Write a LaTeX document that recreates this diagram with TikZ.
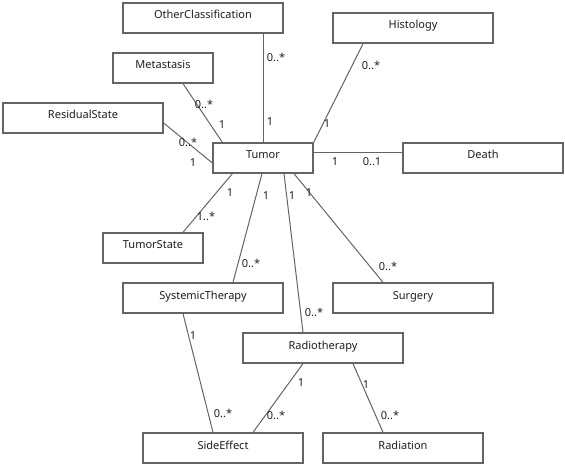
\documentclass[tikz,border=0pt]{standalone}
\usepackage{fontspec}
\setmainfont{Noto Sans}
\usetikzlibrary{calc}
\definecolor{edge}{RGB}{100,100,100}
\definecolor{txt}{RGB}{30,30,30}
\tikzset{
  cls/.style={draw=edge, line width=1.3pt, fill=white, minimum width=160pt, minimum height=30pt, inner sep=0pt, text height=6pt, text depth=4pt, text=txt, font=\fontsize{11}{13}\selectfont},
  clsS/.style={cls, minimum width=100pt},
  assoc/.style={draw=edge, line width=1pt},
  mult/.style={inner sep=0pt, text=txt, font=\fontsize{11}{13}\selectfont}
}
\begin{document}
\begin{tikzpicture}[x=1pt,y=-1pt]
\useasboundingbox (0,0) rectangle (565,465);
% classes
\node[cls]  (oc)    at (203,18)  {OtherClassification};
\node[cls]  (hist)  at (413,28)  {Histology};
\node[clsS] (meta)  at (163,68)  {Metastasis};
\node[cls]  (res)   at (83,118)  {ResidualState};
\node[clsS] (tumor) at (263,158) {Tumor};
\node[cls]  (death) at (483,158) {Death};
\node[clsS] (ts)    at (153,248) {TumorState};
\node[cls]  (st)    at (203,298) {SystemicTherapy};
\node[cls]  (surg)  at (413,298) {Surgery};
\node[cls]  (radio) at (323,348) {Radiotherapy};
\node[cls]  (se)    at (223,448) {SideEffect};
\node[cls]  (rad)   at (403,448) {Radiation};
% associations
\draw[assoc] (tumor.north) -- (tumor.north |- oc.south);
\draw[assoc] (tumor.north east) -- ([xshift=-50pt]hist.south);
\draw[assoc] ([xshift=10pt]tumor.north west) -- ([xshift=20pt]meta.south);
\draw[assoc] ([yshift=-5pt]tumor.west) -- ([yshift=-5pt]res.east);
\draw[assoc] ([yshift=5pt]tumor.east) -- ([yshift=5pt]death.west);
\draw[assoc] ([xshift=20pt]tumor.south west) -- ([xshift=30pt]ts.north);
\draw[assoc] ([xshift=-1pt]tumor.south) -- ([xshift=30pt]st.north);
\draw[assoc] ([xshift=21pt]tumor.south) -- ([xshift=-20pt]radio.north);
\draw[assoc] ([xshift=31pt]tumor.south) -- ([xshift=-30pt]surg.north);
\draw[assoc] ([xshift=-20pt]st.south) -- ([xshift=-10pt]se.north);
\draw[assoc] ([xshift=-20pt]radio.south) -- ([xshift=30pt]se.north);
\draw[assoc] ([xshift=30pt]radio.south) -- ([xshift=-20pt]rad.north);
% multiplicities
\node[mult] (m1)  at (276,57)  {0..*};
\node[mult] (m2)  at (270,122) {1};
\node[mult] (m3)  at (371,65)  {0..*};
\node[mult] (m4)  at (327,124) {1};
\node[mult] (m5)  at (204,104) {0..*};
\node[mult] (m6)  at (222,125) {1};
\node[mult] (m7)  at (188,142) {0..*};
\node[mult] (m8)  at (193,163) {1};
\node[mult] (m9)  at (335,162) {1};
\node[mult] (m10) at (372,162) {0..1};
\node[mult] (m11) at (230,193) {1};
\node[mult] (m12) at (206,216) {1..*};
\node[mult] (m13) at (266,196) {1};
\node[mult] (m14) at (251,263) {0..*};
\node[mult] (m15) at (292,196) {1};
\node[mult] (m16) at (314,312) {0..*};
\node[mult] (m17) at (309,193) {1};
\node[mult] (m18) at (388,266) {0..*};
\node[mult] (m19) at (193,336) {1};
\node[mult] (m20) at (223,413) {0..*};
\node[mult] (m21) at (301,383) {1};
\node[mult] (m22) at (276,415) {0..*};
\node[mult] (m23) at (366,385) {1};
\node[mult] (m24) at (390,415) {0..*};
\end{tikzpicture}
\end{document}
